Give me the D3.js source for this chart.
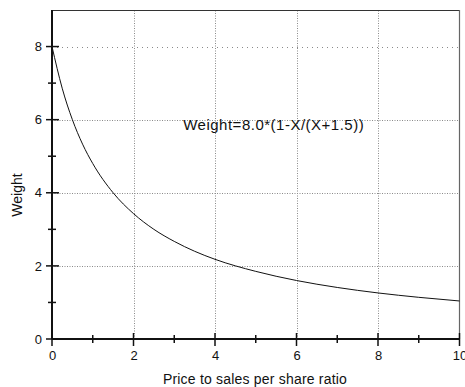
<!DOCTYPE html>
<html>
<head>
<meta charset="utf-8">
<script src="https://cdn.jsdelivr.net/npm/d3@7/dist/d3.min.js"></script>
<style>
  body { margin: 0; background: #fff; }
  text { font-family: "Liberation Sans", Arial, sans-serif; fill: #111; }
</style>
</head>
<body>
<div class="svg"></div>
<script>
'use strict';

// values
var ratioX = [0, 0.25, 0.5, 0.75, 1, 1.5, 2, 2.5, 3, 3.5, 4, 5, 6, 7, 8, 9, 10];
var weightY = [8.0, 6.86, 6.0, 5.33, 4.8, 4.0, 3.43, 3.0, 2.67, 2.4, 2.18, 1.85, 1.6, 1.41, 1.26, 1.14, 1.04];
var xTicks = [0, 2, 4, 6, 8, 10];
var yTicks = [0, 2, 4, 6, 8];
var xMinor = [1, 3, 5, 7, 9];
var yMinor = [1, 3, 5, 7];
var xTitle = 'Price to sales per share ratio';
var yTitle = 'Weight';
var note = 'Weight=8.0*(1-X/(X+1.5))';

var width = 465, height = 387;
var margins = { top: 10, left: 52, right: 6, bottom: 48 };

var svg = d3.select('div.svg').append('svg')
    .attr('width', width)
    .attr('height', height);

var x = d3.scaleLinear().domain([0, 10]).range([margins.left, width - margins.right + 0.5]);
var y = d3.scaleLinear().domain([0, 9]).range([height - margins.bottom, margins.top]);

// grid
var grid = svg.append('g').attr('stroke', '#8a8a8a').attr('stroke-width', 1)
    .attr('stroke-dasharray', '1,1.5');
grid.selectAll('line.gy').data(yTicks.filter(function (d) { return d > 0; }))
    .enter().append('line')
    .attr('x1', x(0)).attr('x2', x(10))
    .attr('y1', function (d) { return Math.round(y(d)) + 0.5; })
    .attr('y2', function (d) { return Math.round(y(d)) + 0.5; })
    .attr('stroke-dasharray', function (d) { return d === 8 ? '1,4' : null; });
grid.selectAll('line.gx').data(xTicks.filter(function (d) { return d > 0 && d < 10; }))
    .enter().append('line')
    .attr('y1', y(0)).attr('y2', y(9))
    .attr('x1', function (d) { return Math.round(x(d)) + 0.5; })
    .attr('x2', function (d) { return Math.round(x(d)) + 0.5; });

// frame top / right
svg.append('line').attr('x1', x(0)).attr('x2', x(10)).attr('y1', y(9) + 0.5).attr('y2', y(9) + 0.5)
    .attr('stroke', '#333').attr('stroke-width', 1.2);
svg.append('line').attr('x1', Math.round(x(10)) - 0.5).attr('x2', Math.round(x(10)) - 0.5)
    .attr('y1', y(9)).attr('y2', y(0))
    .attr('stroke', '#666').attr('stroke-width', 1.2);

// curve
var line = d3.line()
    .x(function (d, i) { return x(ratioX[i]); })
    .y(function (d) { return y(d); })
    .curve(d3.curveMonotoneX);
svg.append('path').attr('d', line(weightY))
    .attr('fill', 'none').attr('stroke', '#111').attr('stroke-width', 1);

// axes
var xAxis = d3.axisBottom(x).tickValues(xTicks).tickSize(0).tickPadding(12)
    .tickFormat(d3.format('d'));
var yAxis = d3.axisLeft(y).tickValues(yTicks).tickSize(0).tickPadding(10)
    .tickFormat(d3.format('d'));

var xAx = svg.append('g').attr('transform', 'translate(0,' + y(0) + ')').call(xAxis);
var yAx = svg.append('g').attr('transform', 'translate(' + x(0) + ',0)').call(yAxis);
[xAx, yAx].forEach(function (a) {
    a.select('.domain').attr('stroke', '#111').attr('stroke-width', 2);
    a.selectAll('text').attr('font-size', 13).attr('fill', '#111')
        .attr('font-family', '"Liberation Sans", Arial, sans-serif');
});
yAx.select('.domain').attr('d', 'M0,' + y(0) + 'V' + y(9));
xAx.select('.domain').attr('d', 'M' + x(0) + ',0H' + x(10));

// crossing ticks
var ticks = svg.append('g').attr('stroke', '#111').attr('stroke-width', 1.5);
ticks.selectAll('line.xt').data(xTicks).enter().append('line')
    .attr('x1', function (d) { return x(d); }).attr('x2', function (d) { return x(d); })
    .attr('y1', y(0) - 6).attr('y2', y(0) + 7);
ticks.selectAll('line.xm').data(xMinor).enter().append('line')
    .attr('x1', function (d) { return x(d); }).attr('x2', function (d) { return x(d); })
    .attr('y1', y(0) - 4).attr('y2', y(0) + 4);
ticks.selectAll('line.yt').data(yTicks).enter().append('line')
    .attr('y1', function (d) { return y(d); }).attr('y2', function (d) { return y(d); })
    .attr('x1', x(0) - 6).attr('x2', x(0) + 7);
ticks.selectAll('line.ym').data(yMinor).enter().append('line')
    .attr('y1', function (d) { return y(d); }).attr('y2', function (d) { return y(d); })
    .attr('x1', x(0) - 4).attr('x2', x(0) + 4);

// titles
svg.append('text').attr('x', 255).attr('y', 384).attr('text-anchor', 'middle')
    .attr('font-size', 14).attr('letter-spacing', 0.2).text(xTitle);
svg.append('text').attr('transform', 'translate(22,' + 195 + ') rotate(-90)')
    .attr('text-anchor', 'middle').attr('font-size', 14).text(yTitle);

svg.append('text').attr('x', x(3.22)).attr('y', y(5.71))
    .attr('font-size', 15).attr('letter-spacing', 0.5).text(note);
</script>
</body>
</html>
